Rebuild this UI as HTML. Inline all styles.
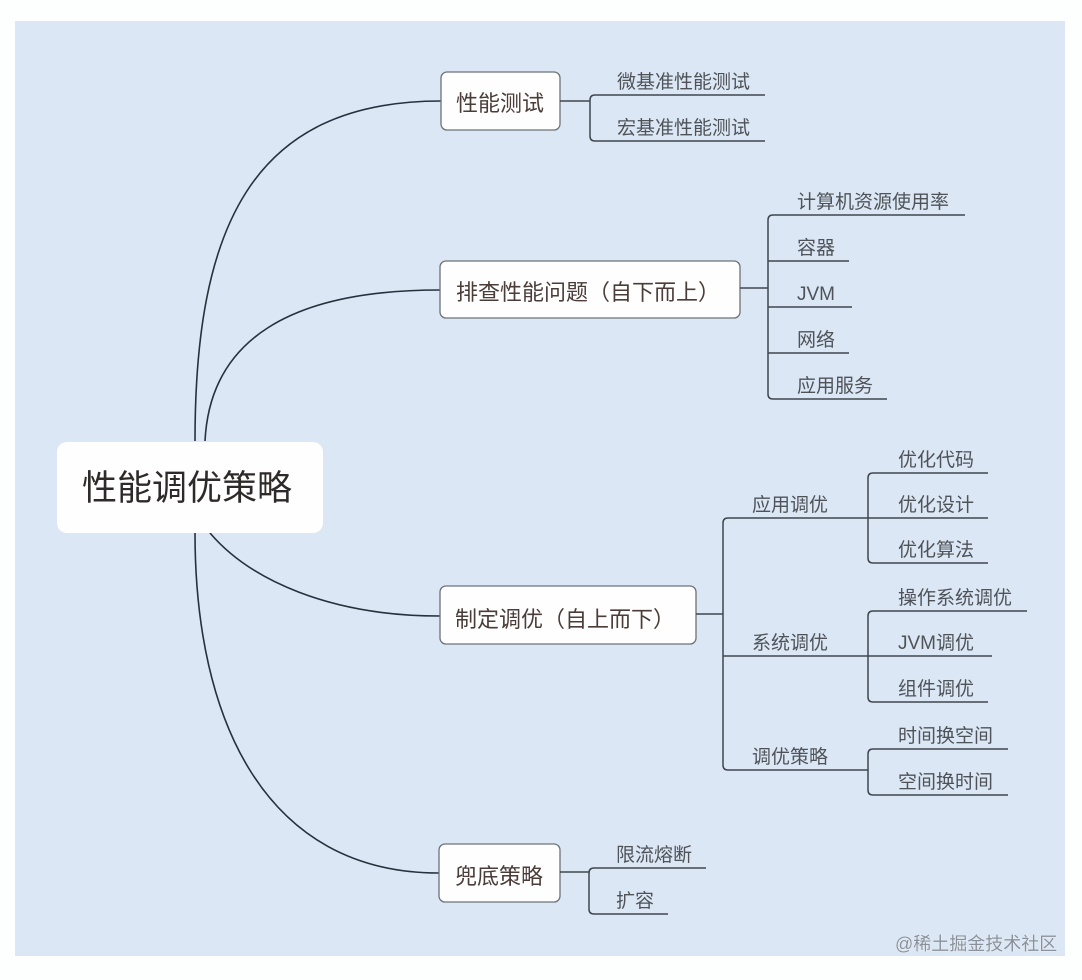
<!DOCTYPE html>
<html><head><meta charset="utf-8">
<style>
html,body{margin:0;padding:0;background:#fdfefe;}
svg{display:block;}
text{font-family:"Liberation Sans","Noto Sans CJK SC",sans-serif;}
.leaf{font-size:19px;fill:#4f5358;}
.br{font-size:22px;fill:#4a3c38;}
.ln{stroke:#3f464e;stroke-width:1.5;fill:none;}
.cv{stroke:#27313c;stroke-width:1.6;fill:none;}
.box{fill:#fefefe;stroke:#6d7277;stroke-width:1.3;}
</style></head>
<body>
<svg width="1082" height="980" viewBox="0 0 1082 980" xmlns="http://www.w3.org/2000/svg">
<rect x="0" y="0" width="1082" height="980" fill="#fdfefe"/>
<rect x="15" y="21" width="1050" height="935" fill="#dbe7f5"/>

<!-- main curves -->
<path class="cv" d="M195,441 C195,230 250,101 441,101"/>
<path class="cv" d="M205,441 C210,340 290,290 440,290"/>
<path class="cv" d="M210,533 C250,580 330,616 440,616"/>
<path class="cv" d="M195,533 C195,720 265,873 439,873"/>

<!-- root -->
<rect x="57" y="442" width="266" height="91" rx="10" fill="#fefefe"/>
<text x="82" y="500" style="font-size:35px;fill:#2e2a2a;">性能调优策略</text>

<!-- branch 1 -->
<rect class="box" x="441" y="72" width="119" height="58" rx="6"/>
<text class="br" x="456" y="111">性能测试</text>
<path class="ln" d="M560,101 H590"/>
<path class="ln" d="M590,100 V100 M590,101 V136 Q590,141 595,141 H765"/>
<path class="ln" d="M590,101 V100 Q590,95 595,95 H765"/>
<text class="leaf" x="617" y="88">微基准性能测试</text>
<text class="leaf" x="617" y="134">宏基准性能测试</text>

<!-- branch 2 -->
<rect class="box" x="440" y="261" width="300" height="57" rx="6"/>
<text class="br" x="456" y="300">排查性能问题（自下而上）</text>
<path class="ln" d="M740,288 H768"/>
<path class="ln" d="M965,215 H773 Q768,215 768,220 V394 Q768,399 773,399 H887"/>
<path class="ln" d="M768,261 H849 M768,307 H852 M768,353 H849"/>
<text class="leaf" x="797" y="208">计算机资源使用率</text>
<text class="leaf" x="797" y="254">容器</text>
<text class="leaf" x="797" y="300">JVM</text>
<text class="leaf" x="797" y="346">网络</text>
<text class="leaf" x="797" y="392">应用服务</text>

<!-- branch 3 -->
<rect class="box" x="440" y="586" width="256" height="58" rx="6"/>
<text class="br" x="455" y="627">制定调优（自上而下）</text>
<path class="ln" d="M696,614 H723"/>
<path class="ln" d="M868,518 H728 Q723,518 723,523 V765 Q723,770 728,770 H868"/>
<path class="ln" d="M723,656 H992"/>
<path class="ln" d="M868,518 H988"/>
<text class="leaf" x="752" y="511">应用调优</text>
<text class="leaf" x="752" y="649">系统调优</text>
<text class="leaf" x="752" y="763">调优策略</text>
<!-- sub brackets -->
<path class="ln" d="M988,473 H873 Q868,473 868,478 V558 Q868,563 873,563 H988"/>
<path class="ln" d="M1027,611 H873 Q868,611 868,616 V697 Q868,702 873,702 H988"/>
<path class="ln" d="M1008,749 H873 Q868,749 868,754 V790 Q868,795 873,795 H1008"/>
<text class="leaf" x="898" y="466">优化代码</text>
<text class="leaf" x="898" y="511">优化设计</text>
<text class="leaf" x="898" y="556">优化算法</text>
<text class="leaf" x="898" y="604">操作系统调优</text>
<text class="leaf" x="898" y="649">JVM调优</text>
<text class="leaf" x="898" y="695">组件调优</text>
<text class="leaf" x="898" y="742">时间换空间</text>
<text class="leaf" x="898" y="788">空间换时间</text>

<!-- branch 4 -->
<rect class="box" x="439" y="844" width="121" height="58" rx="6"/>
<text class="br" x="455" y="884">兜底策略</text>
<path class="ln" d="M560,872 H589"/>
<path class="ln" d="M706,868 H594 Q589,868 589,873 V909 Q589,914 594,914 H668"/>
<text class="leaf" x="616" y="861">限流熔断</text>
<text class="leaf" x="616" y="907">扩容</text>

<!-- watermark -->
<text x="895" y="950" style="font-size:18px;fill:#8a9099;stroke:#f4f7fb;stroke-width:0.6;paint-order:stroke;">@稀土掘金技术社区</text>
</svg>
</body></html>
